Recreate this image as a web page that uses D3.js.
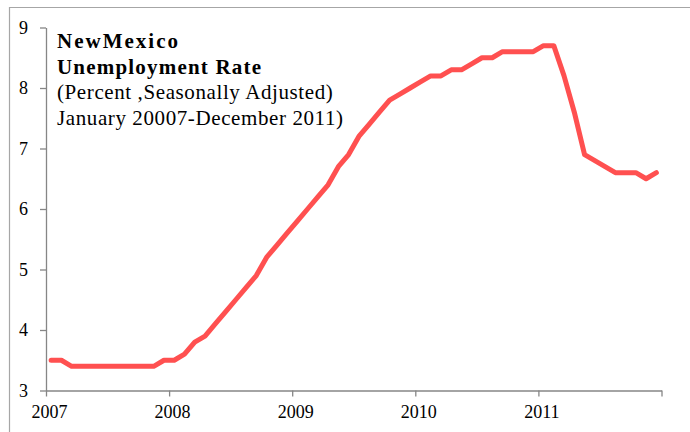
<!DOCTYPE html>
<html>
<head>
<meta charset="utf-8">
<script src="https://cdn.jsdelivr.net/npm/d3@7"></script>
<style>
  html, body { margin: 0; padding: 0; background: #fff; }
  svg { display: block; }
  .axis path, .axis line { stroke: #868686; stroke-width: 1.3; }
</style>
</head>
<body>
<script>
"use strict";

// monthly unemployment rate, Jan 2007 .. Dec 2011
var years = [2007, 2008, 2009, 2010, 2011];
var rate2007 = [3.5, 3.5, 3.4, 3.4, 3.4, 3.4, 3.4, 3.4, 3.4, 3.4, 3.4, 3.5];
var rate2008 = [3.5, 3.6, 3.8, 3.9, 4.1, 4.3, 4.5, 4.7, 4.9, 5.2, 5.4, 5.6];
var rate2009 = [5.8, 6.0, 6.2, 6.4, 6.7, 6.9, 7.2, 7.4, 7.6, 7.8, 7.9, 8.0];
var rate2010 = [8.1, 8.2, 8.2, 8.3, 8.3, 8.4, 8.5, 8.5, 8.6, 8.6, 8.6, 8.6];
var rate2011 = [8.7, 8.7, 8.2, 7.6, 6.9, 6.8, 6.7, 6.6, 6.6, 6.6, 6.5, 6.6];
var yTicks = [3, 4, 5, 6, 7, 8, 9];
var titleLines = [
    "NewMexico",
    "Unemployment Rate",
    "(Percent ,Seasonally Adjusted)",
    "January 20007-December 2011)"
];

var width = 690,
    height = 432,
    serif = "'Liberation Serif', 'Times New Roman', serif";

var values = [].concat(rate2007, rate2008, rate2009, rate2010, rate2011);
var points = values.map(function(v, i) {
    return { t: years[0] + (i + 0.5) / 12, v: v };
});

var xScale = d3.scaleLinear()
               .domain([2007, 2012])
               .range([46, 661.5]);

var yScale = d3.scaleLinear()
               .domain([3, 9])
               .range([390.5, 27.5]);

var svg = d3.select("body").append("svg")
    .attr("width", width)
    .attr("height", height);

// outer frame (only top and left edge visible)
svg.append("path")
    .attr("d", "M9.5," + height + "V7.5H" + width)
    .attr("fill", "none")
    .attr("stroke", "#a6a6a6")
    .attr("stroke-width", 1.2);

var xAxis = d3.axisBottom(xScale)
    .tickValues(years.concat([2012]))
    .tickFormat(function(d) { return d < 2012 ? d : ""; })
    .tickSize(6)
    .tickSizeOuter(0)
    .tickPadding(9);

var gx = svg.append("g")
    .attr("class", "axis")
    .attr("transform", "translate(0," + yScale(3) + ")")
    .call(xAxis)
    .attr("font-family", serif)
    .attr("font-size", 18);
gx.selectAll("text").attr("fill", "#000").attr("dx", "3px");

var yAxis = d3.axisLeft(yScale)
    .tickValues(yTicks)
    .tickFormat(d3.format("d"))
    .tickSize(6)
    .tickSizeOuter(0)
    .tickPadding(12);

var gy = svg.append("g")
    .attr("class", "axis")
    .attr("transform", "translate(" + xScale(2007) + ",0)")
    .call(yAxis)
    .attr("font-family", serif)
    .attr("font-size", 18);
gy.selectAll("text").attr("fill", "#000");

var line = d3.line()
    .x(function(d) { return xScale(d.t); })
    .y(function(d) { return yScale(d.v); });

svg.append("path")
    .datum(points)
    .attr("d", line)
    .attr("fill", "none")
    .attr("stroke", "#ff5050")
    .attr("stroke-width", 5)
    .attr("stroke-linejoin", "round")
    .attr("stroke-linecap", "round");

// title block
svg.selectAll("text.title")
    .data(titleLines)
    .enter().append("text")
        .attr("class", "title")
        .attr("x", 57)
        .attr("y", function(d, i) { return 48 + i * 25.5; })
        .style("font-family", serif)
        .style("font-size", "21px")
        .style("font-weight", function(d, i) { return i < 2 ? "bold" : "normal"; })
        .style("letter-spacing", function(d, i) { return i === 0 ? "2px" : (i === 1 ? "1.2px" : "0.6px"); })
        .text(function(d) { return d; });
</script>
</body>
</html>
